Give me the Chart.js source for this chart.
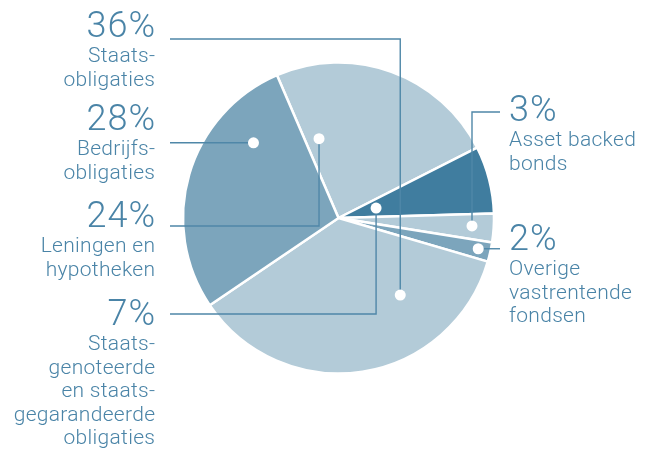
<!DOCTYPE html>
<html>
<head>
<meta charset="utf-8">
<script src="https://cdn.jsdelivr.net/npm/chart.js@4"></script>
<style>
  html, body { margin: 0; padding: 0; background: #fff; }
  canvas { display: block; }
</style>
</head>
<body>
<canvas id="chart" width="651" height="452"></canvas>
<script>
// slice order follows the picture clockwise, starting at the top
const categories = [
  'Leningen en hypotheken',
  'Staatsgenoteerde en staatsgegarandeerde obligaties',
  'Asset backed bonds',
  'Overige vastrentende fondsen',
  'Staatsobligaties',
  'Bedrijfsobligaties'
];
const shares = [24, 7, 3, 2, 36, 28];
const pctLabels = ['24%', '7%', '3%', '2%', '36%', '28%'];
const labelLines = [
  ['Leningen en', 'hypotheken'],
  ['Staats-', 'genoteerde', 'en staats-', 'gegarandeerde', 'obligaties'],
  ['Asset backed', 'bonds'],
  ['Overige', 'vastrentende', 'fondsen'],
  ['Staats-', 'obligaties'],
  ['Bedrijfs-', 'obligaties']
];
const sliceColors = ['#b3cbd8', '#407d9f', '#b3cbd8', '#7ca5bc', '#b3cbd8', '#7ca5bc'];

const TEXT = '#4a84a7';
const LINE = '#4f87a8';

// where each callout sits; along/depth place the dot inside its slice
const callouts = [
  { side: 'left',  x: 155, y: 227, lineY: 226,  along: 0.11, depth: 0.525 },
  { side: 'left',  x: 155, y: 325, lineY: 314,  along: 0.48, depth: 0.25 },
  { side: 'right', x: 509, y: 121, lineY: 112,  along: 0.47, depth: 0.86 },
  { side: 'right', x: 509, y: 250, lineY: null, along: 0.46, depth: 0.92 },
  { side: 'left',  x: 155, y: 37,  lineY: 39,   along: 0.27, depth: 0.635 },
  { side: 'left',  x: 155, y: 130, lineY: null, along: 0.75, depth: 0.73 }
];

const calloutPlugin = {
  id: 'callouts',
  afterDraw(chart) {
    const ctx = chart.ctx;
    const arcs = chart.getDatasetMeta(0).data;
    const dots = arcs.map((arc, i) => {
      const c = callouts[i];
      const a = arc.startAngle + c.along * (arc.endAngle - arc.startAngle);
      const r = c.depth * arc.outerRadius;
      return { x: arc.x + Math.cos(a) * r, y: arc.y + Math.sin(a) * r };
    });

    ctx.save();
    // leader lines
    ctx.strokeStyle = LINE;
    ctx.lineWidth = 1.4;
    callouts.forEach((c, i) => {
      const d = dots[i];
      const sx = c.side === 'left' ? 170 : 500;
      const ly = c.lineY === null ? d.y : c.lineY;
      ctx.beginPath();
      ctx.moveTo(sx, ly);
      ctx.lineTo(d.x, ly);
      ctx.lineTo(d.x, d.y);
      ctx.stroke();
    });
    // dots
    ctx.fillStyle = '#fff';
    dots.forEach(d => {
      ctx.beginPath();
      ctx.arc(d.x, d.y, 5.5, 0, Math.PI * 2);
      ctx.fill();
    });
    // texts
    ctx.fillStyle = TEXT;
    ctx.textBaseline = 'alphabetic';
    callouts.forEach((c, i) => {
      const left = c.side === 'left';
      ctx.textAlign = left ? 'right' : 'left';
      ctx.font = '300 36px Roboto';
      ctx.letterSpacing = '1px';
      ctx.fillText(pctLabels[i], left ? c.x + 1 : c.x, c.y);
      ctx.font = '300 21px Roboto';
      ctx.letterSpacing = '0.3px';
      labelLines[i].forEach((t, k) => {
        ctx.fillText(t, left ? c.x + 0.3 : c.x, c.y + 25 + k * 23.5);
      });
    });
    ctx.restore();
  }
};

new Chart(document.getElementById('chart'), {
  type: 'pie',
  data: {
    labels: categories,
    datasets: [{
      data: shares,
      backgroundColor: sliceColors,
      borderColor: '#ffffff',
      borderWidth: 2.5
    }]
  },
  options: {
    responsive: false,
    animation: false,
    rotation: -23.3,
    radius: 155.5,
    layout: { padding: { left: 26, right: 0, top: 0, bottom: 16 } },
    plugins: {
      legend: { display: false },
      tooltip: { enabled: false }
    }
  },
  plugins: [calloutPlugin]
});
</script>
</body>
</html>
